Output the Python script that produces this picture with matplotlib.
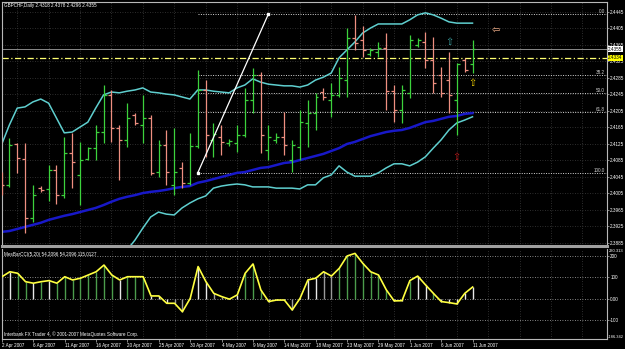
"""GBPCHF daily chart in MetaTrader style: bars, Bollinger bands, MA, fibo and a CCI sub-window."""

import matplotlib.pyplot as plt
import numpy as np

plt.rcParams["font.family"] = ["Liberation Sans", "DejaVu Sans"]

# ---- values ---------------------------------------------------------------
symbol = "GBPCHF,Daily"
date_labels = [
    "2 Apr 2007", "6 Apr 2007", "11 Apr 2007", "16 Apr 2007", "20 Apr 2007",
    "25 Apr 2007", "30 Apr 2007", "4 May 2007", "9 May 2007", "14 May 2007",
    "18 May 2007", "23 May 2007", "29 May 2007", "1 Jun 2007", "6 Jun 2007",
    "11 Jun 2007",
]
price_labels = [
    "2.4445", "2.4405", "2.4365", "2.4325", "2.4285", "2.4245", "2.4205", "2.4165",
    "2.4125", "2.4085", "2.4045", "2.4005", "2.3965", "2.3925", "2.3885",
]

opens = [
    2.4038, 2.4026, 2.4125, 2.4089, 2.3946, 2.4018, 2.4016, 2.4062, 2.4001, 2.4103,
    2.4050, 2.4089, 2.4115, 2.4154, 2.4244, 2.4164, 2.4135, 2.4195, 2.4171, 2.4188,
    2.4057, 2.4123, 2.4026, 2.4067, 2.4031, 2.4120, 2.4256, 2.4135, 2.4142, 2.4127,
    2.4127, 2.4147, 2.4232, 2.4292, 2.4111, 2.4135, 2.4142, 2.4086, 2.4118, 2.4176,
    2.4200, 2.4251, 2.4232, 2.4244, 2.4280, 2.4382, 2.4377, 2.4343, 2.4348, 2.4358,
    2.4253, 2.4207, 2.4249, 2.4365, 2.4372, 2.4329, 2.4292, 2.4280, 2.4232, 2.4329,
    2.4318,
]
highs = [
    2.4057, 2.4140, 2.4127, 2.4127, 2.4026, 2.4023, 2.4074, 2.4074, 2.4142, 2.4152,
    2.4130, 2.4118, 2.4171, 2.4268, 2.4256, 2.4171, 2.4224, 2.4200, 2.4244, 2.4195,
    2.4135, 2.4159, 2.4164, 2.4081, 2.4152, 2.4304, 2.4280, 2.4176, 2.4171, 2.4137,
    2.4171, 2.4261, 2.4309, 2.4300, 2.4171, 2.4152, 2.4203, 2.4135, 2.4207, 2.4232,
    2.4249, 2.4261, 2.4273, 2.4312, 2.4406, 2.4438, 2.4411, 2.4358, 2.4372, 2.4394,
    2.4268, 2.4268, 2.4389, 2.4382, 2.4397, 2.4384, 2.4312, 2.4348, 2.4321, 2.4334,
    2.4378,
]
lows = [
    2.4001, 2.4021, 2.4055, 2.3909, 2.3936, 2.4009, 2.3987, 2.3980, 2.3994, 2.4018,
    2.3977, 2.4086, 2.4086, 2.4127, 2.4130, 2.4038, 2.4118, 2.4171, 2.4127, 2.4050,
    2.4045, 2.4026, 2.4001, 2.4018, 2.4026, 2.4115, 2.4094, 2.4094, 2.4098, 2.4120,
    2.4106, 2.4142, 2.4200, 2.4103, 2.4086, 2.4127, 2.4098, 2.4057, 2.4086, 2.4118,
    2.4159, 2.4232, 2.4191, 2.4239, 2.4239, 2.4353, 2.4336, 2.4338, 2.4336, 2.4207,
    2.4178, 2.4176, 2.4237, 2.4360, 2.4309, 2.4249, 2.4239, 2.4200, 2.4147, 2.4300,
    2.4296,
]
closes = [
    2.4026, 2.4123, 2.4091, 2.3946, 2.4001, 2.4014, 2.4062, 2.4001, 2.4103, 2.4081,
    2.4086, 2.4115, 2.4154, 2.4244, 2.4164, 2.4135, 2.4188, 2.4176, 2.4188, 2.4055,
    2.4123, 2.4057, 2.4057, 2.4031, 2.4120, 2.4256, 2.4147, 2.4149, 2.4130, 2.4132,
    2.4147, 2.4232, 2.4292, 2.4147, 2.4142, 2.4142, 2.4123, 2.4123, 2.4178, 2.4200,
    2.4239, 2.4239, 2.4244, 2.4285, 2.4382, 2.4370, 2.4353, 2.4353, 2.4358, 2.4253,
    2.4207, 2.4256, 2.4377, 2.4377, 2.4329, 2.4273, 2.4249, 2.4244, 2.4319, 2.4304,
    2.4355,
]

bb_upper = [
    2.4123, 2.4171, 2.4212, 2.4215, 2.4227, 2.4234, 2.4224, 2.4188, 2.4152, 2.4154,
    2.4166, 2.4178, 2.4212, 2.4244, 2.4251, 2.4249, 2.4253, 2.4256, 2.4261, 2.4251,
    2.4249, 2.4246, 2.4244, 2.4239, 2.4234, 2.4256, 2.4256, 2.4253, 2.4251, 2.4249,
    2.4261, 2.4268, 2.4283, 2.4275, 2.4270, 2.4268, 2.4266, 2.4266, 2.4263, 2.4268,
    2.4280, 2.4287, 2.4297, 2.4334, 2.4353, 2.4372, 2.4394, 2.4406, 2.4416, 2.4416,
    2.4416, 2.4416, 2.4426, 2.4438, 2.4443, 2.4438, 2.4430, 2.4421, 2.4418, 2.4418,
    2.4418,
]
# lower band is below the visible window for the first 15 bars
bb_lower = [None] * 15 + [
    2.3839, 2.3868, 2.3892, 2.3921, 2.3948, 2.3960, 2.3955, 2.3953, 2.3970, 2.3982,
    2.3992, 2.3999, 2.4018, 2.4023, 2.4026, 2.4028, 2.4026, 2.4021, 2.4021, 2.4021,
    2.4018, 2.4018, 2.4018, 2.4016, 2.4026, 2.4026, 2.4043, 2.4050, 2.4072, 2.4057,
    2.4047, 2.4047, 2.4047, 2.4055, 2.4067, 2.4077, 2.4077, 2.4072, 2.4081, 2.4094,
    2.4115, 2.4135, 2.4159, 2.4176, 2.4183, 2.4191,
]
ma_line = [
    2.3912, 2.3914, 2.3919, 2.3924, 2.3929, 2.3934, 2.3941, 2.3946, 2.3951, 2.3955,
    2.3960, 2.3965, 2.3970, 2.3977, 2.3985, 2.3992, 2.3997, 2.4001, 2.4006, 2.4009,
    2.4011, 2.4014, 2.4018, 2.4021, 2.4023, 2.4031, 2.4035, 2.4040, 2.4045, 2.4050,
    2.4055, 2.4057, 2.4062, 2.4067, 2.4069, 2.4074, 2.4079, 2.4081, 2.4086, 2.4091,
    2.4096, 2.4101, 2.4108, 2.4115, 2.4125, 2.4130, 2.4137, 2.4144, 2.4149, 2.4154,
    2.4157, 2.4159, 2.4164, 2.4171, 2.4178, 2.4181, 2.4186, 2.4191, 2.4193, 2.4198,
    2.4200,
]

cci = [
    102, 125, 118, 79, 72, 79, 84, 72, 102, 87,
    95, 110, 125, 156, 110, 87, 102, 102, 102, 13,
    13, -21, -21, -60, 2, 149, 79, 25, 10, -2,
    18, 118, 161, 41, -13, -6, -6, -52, 2, 87,
    95, 125, 105, 141, 198, 210, 164, 125, 110, 41,
    -10, -9, 84, 105, 64, 25, -13, -18, -24, 25,
    54.2096,
]
cci_hist_colors = list(
    "wwggwgwggg" "gggggwgggw" "wwsswwwssw" "wgggwwwsww" "wssggggggg" "wwgwwgwwww" "w"
)
cci_levels = [200, 100, 0, -100]
cci_level_labels = ["200", "100", "0.00", "-100"]
cci_max, cci_min = 230.313, -186.342
cci_caption = "MesBarCCI(5,20) 54.2096 54.2096 115.0127"

fib_bars = [25, 34]
fib_prices = [2.4055, 2.4440]
fib_levels = [0.0, 38.2, 50.0, 61.8, 100.0]
yellow_level = 2.4334

# signal arrows: (bar, price, glyph, colour)
signals = [
    (57, 2.4372, "\u21e7", "#3aa0a0"),
    (58, 2.4094, "\u21e7", "#c01818"),
    (60, 2.4273, "\u21e7", "#f0d000"),
    (63, 2.4399, "\u21e6", "#ffb890"),
]

# ---- layout ---------------------------------------------------------------
W, H = 625, 349
fig = plt.figure(figsize=(W / 100, H / 100), dpi=100, facecolor="black")


def add_panel(left, top, right, bottom):
    return fig.add_axes((left / W, 1 - bottom / H, (right - left) / W, (bottom - top) / H))


ax = add_panel(2, 2, 607, 246)
sub = add_panel(2, 249, 607, 339)

bar_px, first_px = 7.85, 1.5
x_lim = ((2 - first_px) / bar_px, (607 - first_px) / bar_px)
px_per_price = 16.5 / 0.004
top_label = float(price_labels[0])
y_lim = (top_label - (246 - 12) / px_per_price, top_label + (12 - 2) / px_per_price)

idx = np.arange(len(closes))
o, h, l, c = (np.array(v) for v in (opens, highs, lows, closes))

GREEN, PINK = "#3cd23c", "#ee8f80"
GRID = dict(color="#3c3c3c", lw=0.6, ls=(0, (1, 2)), zorder=0)
FS = 3.3

for a in (ax, sub):
    a.set_facecolor("black")
    a.set_xlim(x_lim)
    for s in a.spines.values():
        s.set_color("#b8b8b8")
        s.set_linewidth(0.8)
    for k in range(2, int(x_lim[1]) + 1, 4):
        a.axvline(k, **GRID)

ax.spines["bottom"].set_color("#a0a0a0")
ax.spines["bottom"].set_linewidth(2.2)
sub.spines["top"].set_visible(False)

# ---- price window -----------------------------------------------------------
ax.set_ylim(y_lim)
ax.set_xticks([])
ax.yaxis.tick_right()
tick_prices = [float(t) for t in price_labels]
ax.set_yticks(tick_prices)
ax.set_yticklabels(price_labels, fontsize=FS, color="white")
ax.tick_params(axis="y", length=1.5, width=0.5, pad=0.8, color="#b8b8b8")
for p in tick_prices:
    ax.axhline(p, **GRID)

# fibonacci retracement
f_lo, f_hi = fib_prices
for lev in fib_levels:
    p = f_hi - lev / 100 * (f_hi - f_lo)
    ax.hlines(p, fib_bars[0], x_lim[1], color="#d8d8d8", lw=0.7, ls=(0, (1, 1.5)), zorder=1)
    ax.text(x_lim[1] - 0.3, p, f"{lev:.1f}", color="#d0d0d0", fontsize=FS,
            ha="right", va="bottom")
ax.plot(fib_bars, fib_prices, color="white", lw=0.9, marker="s", ms=1.8, zorder=4)

# bid line and horizontal line
ax.axhline(c[-1], color="#8a8a8a", lw=0.7, zorder=1)
ax.axhline(yellow_level, color="#ffff70", lw=0.9, ls=(0, (5, 2, 1, 2)), zorder=1)

# indicators
ax.plot(idx, bb_upper, color="#5fcfcf", lw=1.1, zorder=2)
ax.plot(idx, np.array(bb_lower, dtype=float), color="#5fcfcf", lw=1.1, zorder=2)
ax.plot(idx, ma_line, color="#1818c8", lw=1.8, zorder=2)

# bars
bar_cols = [GREEN if cl > op else PINK for op, cl in zip(o, c)]
ax.vlines(idx, l, h, colors=bar_cols, lw=0.9, zorder=3)
ax.hlines(o, idx - 0.38, idx, colors=bar_cols, lw=0.9, zorder=3)
ax.hlines(c, idx, idx + 0.38, colors=bar_cols, lw=0.9, zorder=3)

for bar, price, glyph, col in signals:
    ax.text(bar, price, glyph, color=col, fontsize=7, ha="center", va="center",
            family="DejaVu Sans", zorder=5)

ax.text(0.3, y_lim[1] - 4 / px_per_price,
        f"{symbol} {o[-1]:.4f} {h[-1]:.4f} {l[-1]:.4f} {c[-1]:.4f}",
        color="white", fontsize=FS, ha="left", va="center")

ytrans = ax.get_yaxis_transform()
ax.text(1.002, c[-1], f"{c[-1]:.4f}", transform=ytrans, fontsize=FS, color="black",
        ha="left", va="center", clip_on=False,
        bbox=dict(fc="white", ec="none", pad=0.3))
ax.text(1.002, yellow_level, f"{yellow_level:.4f}", transform=ytrans, fontsize=FS,
        color="black", ha="left", va="center", clip_on=False,
        bbox=dict(fc="#ffff00", ec="none", pad=0.3))

# ---- CCI window ---------------------------------------------------------------
sub.set_ylim(cci_min, cci_max)
hist_map = {"g": "#4c9c4c", "w": "#e8e8e8", "s": "#9a9a9a"}
sub.vlines(idx, 0, cci, colors=[hist_map[k] for k in cci_hist_colors], lw=1.0, zorder=2)
sub.plot(idx, cci, color="#ffff40", lw=1.2, zorder=3)
for lev in cci_levels:
    sub.axhline(lev, color="#b0b0b0", lw=0.6, ls=(0, (1, 2)), zorder=1)

sub.yaxis.tick_right()
sub.set_yticks(cci_levels)
sub.set_yticklabels(cci_level_labels, fontsize=FS, color="white")
sub.tick_params(axis="y", length=1.5, width=0.5, pad=0.8, color="#b8b8b8")
sytrans = sub.get_yaxis_transform()
sub.text(1.003, cci_max, f"{cci_max:.3f}", transform=sytrans, fontsize=FS - 0.3,
         color="white", ha="left", va="top", clip_on=False)
sub.text(1.002, cci_min, f"{cci_min:.3f}", transform=sytrans, fontsize=FS - 0.4,
         color="white", ha="left", va="bottom", clip_on=False)

sub.set_xticks(np.arange(0, len(closes), 4))
sub.set_xticklabels(date_labels, fontsize=FS, color="white", ha="left")
sub.tick_params(axis="x", length=2, width=0.5, pad=1, color="#b8b8b8")

sub.text(0.003, 0.97, cci_caption, transform=sub.transAxes, fontsize=FS, color="white",
         ha="left", va="top")
sub.text(0.003, 0.02, "Interbank FX Trader 4, \u00a9 2001-2007 MetaQuotes Software Corp.",
         transform=sub.transAxes, fontsize=FS, color="white", ha="left", va="bottom")

fig.savefig("out.png", dpi=100, facecolor="black")
